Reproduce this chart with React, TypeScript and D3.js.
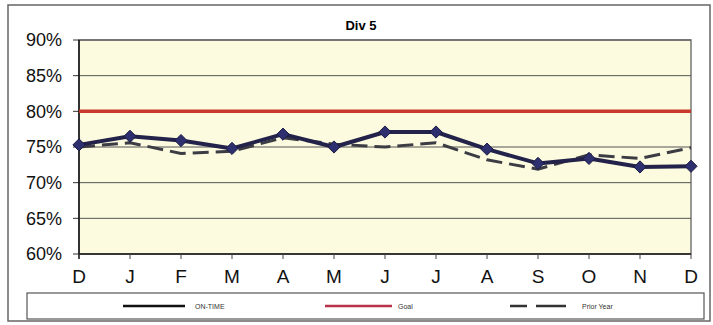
import React from "react";
import * as d3 from "d3";

const months = ["D", "J", "F", "M", "A", "M", "J", "J", "A", "S", "O", "N", "D"];
const onTime = [75.3, 76.5, 75.9, 74.8, 76.8, 75.0, 77.1, 77.1, 74.7, 72.7, 73.4, 72.2, 72.3];
const priorYear = [75.0, 75.6, 74.1, 74.4, 76.3, 75.4, 75.0, 75.6, 73.2, 71.9, 73.9, 73.4, 74.9];
const goal = 80;
const yTicks = [60, 65, 70, 75, 80, 85, 90];

const W = 713;
const H = 325;
const plot = { left: 79, right: 691, top: 40, bottom: 254 };
const font = "Arial, 'Liberation Sans', sans-serif";

export default function App() {
  const idx = months.map((_, i) => i);
  const x = d3.scalePoint<number>().domain(idx).range([plot.left, plot.right]);
  const y = d3.scaleLinear().domain([60, 90]).range([plot.bottom, plot.top]);

  const line = d3
    .line<number>()
    .x((_, i) => x(i) as number)
    .y((d) => y(d));

  const diamond = d3.symbol().type(d3.symbolDiamond2).size(95)();

  return (
    <svg
      width={W}
      height={H}
      style={{ position: "absolute", left: 0, top: 0, background: "#fff" }}
    >
      {/* outer frame */}
      <rect x={8} y={5} width={702} height={316} fill="#fff" stroke="#666" strokeWidth={1.5} />

      <text x={361} y={30} textAnchor="middle" fontFamily={font} fontWeight="bold" fontSize={13}>
        Div 5
      </text>

      {/* plot background */}
      <rect
        x={plot.left}
        y={plot.top}
        width={plot.right - plot.left}
        height={plot.bottom - plot.top}
        fill="#fcfbdf"
        stroke="#777"
        strokeWidth={1.5}
      />

      {/* gridlines and y axis */}
      {yTicks.map((t) => (
        <g key={t}>
          <line x1={plot.left} x2={plot.right} y1={y(t)} y2={y(t)} stroke="#555" strokeWidth={1} />
          <line x1={plot.left - 6} x2={plot.left} y1={y(t)} y2={y(t)} stroke="#333" strokeWidth={1} />
          <text
            x={62}
            y={y(t)}
            dy="0.36em"
            textAnchor="end"
            fontFamily={font}
            fontSize={18}
            fill="#111"
          >
            {t}%
          </text>
        </g>
      ))}
      <line x1={plot.left} x2={plot.left} y1={plot.top} y2={plot.bottom + 5} stroke="#111" strokeWidth={1.5} />
      <line x1={plot.left} x2={plot.right} y1={plot.bottom} y2={plot.bottom} stroke="#222" strokeWidth={1.5} />

      {/* x axis */}
      {months.map((m, i) => (
        <g key={i}>
          <line
            x1={x(i)}
            x2={x(i)}
            y1={plot.bottom}
            y2={plot.bottom + 5}
            stroke="#444"
            strokeWidth={1}
          />
          <text
            x={x(i)}
            y={283}
            textAnchor="middle"
            fontFamily={font}
            fontSize={19}
            fill="#111"
          >
            {m}
          </text>
        </g>
      ))}

      {/* goal */}
      <line
        x1={plot.left}
        x2={plot.right}
        y1={y(goal)}
        y2={y(goal)}
        stroke="#c9392b"
        strokeWidth={3.5}
      />

      {/* prior year */}
      <path
        d={line(priorYear) || ""}
        fill="none"
        stroke="#3c3c44"
        strokeWidth={3}
        strokeDasharray="16,7"
      />

      {/* on-time */}
      <path d={line(onTime) || ""} fill="none" stroke="#22224a" strokeWidth={4} strokeLinejoin="round" />
      {onTime.map((v, i) => (
        <path
          key={i}
          d={diamond || ""}
          transform={`translate(${x(i)},${y(v)})`}
          fill="#2e2f6e"
          stroke="#1c1c44"
          strokeWidth={1}
        />
      ))}

      {/* legend */}
      <rect x={27} y={293} width={677} height={26} fill="#fff" stroke="#555" strokeWidth={1.2} />
      <line x1={123} x2={185} y1={306} y2={306} stroke="#111" strokeWidth={2.5} />
      <text x={195} y={308.5} fontFamily={font} fontSize={7} fill="#333">
        ON-TIME
      </text>
      <line x1={325} x2={392} y1={306} y2={306} stroke="#b8334a" strokeWidth={2.5} />
      <text x={398} y={308.5} fontFamily={font} fontSize={7} fill="#333">
        Goal
      </text>
      <line x1={510} x2={573} y1={306} y2={306} stroke="#333" strokeWidth={2.5} strokeDasharray="17,9,13,0" />
      <text x={582} y={308.5} fontFamily={font} fontSize={7} fill="#333">
        Prior Year
      </text>
    </svg>
  );
}
